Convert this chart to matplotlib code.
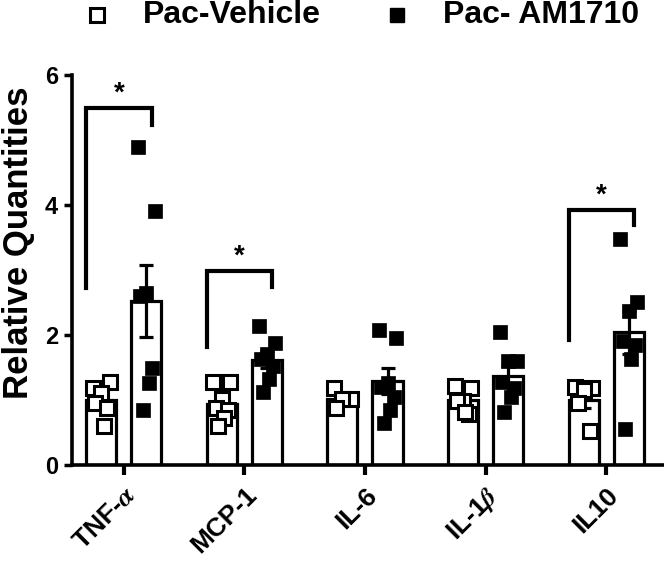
import matplotlib
matplotlib.use("Agg")
import matplotlib.pyplot as plt
import numpy as np

plt.rcParams['font.family'] = ['Liberation Sans', 'DejaVu Sans']
plt.rcParams['font.weight'] = 'bold'
plt.rcParams['mathtext.fontset'] = 'stix'

# data
categories = ['TNF-$\\alpha$', 'MCP-1', 'IL-6', 'IL-1$\\beta$', 'IL10']
vehicle_pts = [
    [1.18, 1.28, 1.10, 0.95, 0.87, 0.60],
    [1.28, 1.28, 1.02, 0.87, 0.84, 0.72, 0.60],
    [1.18, 1.02, 1.02, 0.87],
    [1.22, 1.19, 0.98, 0.98, 0.79, 0.81],
    [1.20, 1.18, 1.15, 0.95, 0.53],
]
am_pts = [
    [4.89, 3.91, 2.65, 2.60, 1.49, 1.26, 0.85],
    [2.14, 1.88, 1.71, 1.63, 1.53, 1.33, 1.13],
    [2.08, 1.95, 1.26, 1.20, 1.05, 0.85, 0.65],
    [2.05, 1.60, 1.60, 1.28, 1.18, 1.05, 0.82],
    [3.47, 2.50, 2.37, 1.90, 1.84, 1.63, 0.56],
]
labels = ['Pac-Vehicle', 'Pac- AM1710']

# significance brackets
sig_groups = [0, 1, 4]
sig_top = [5.49, 2.98, 3.92]
sig_left_bottom = [2.72, 1.82, 1.92]
sig_right_bottom = [5.23, 2.74, 3.69]

fig = plt.figure(figsize=(6.64, 5.69), dpi=100)
ax = fig.add_axes([0.1084, 0.1828, 0.8916, 0.6854])

off = 0.187
bw = 0.25
lw = 2.3
jitter = [-0.07, 0.07, 0.0, -0.05, 0.05, 0.02, -0.03]

x = np.arange(len(categories))
for i in range(len(categories)):
    for pts, dx, filled in [(vehicle_pts[i], -off, False), (am_pts[i], off, True)]:
        pts = np.array(pts)
        m = pts.mean()
        sem = pts.std(ddof=1) / np.sqrt(len(pts))
        xc = x[i] + dx
        ax.bar(xc, m, width=bw, facecolor='white', edgecolor='black', linewidth=lw, zorder=2)
        ax.errorbar(xc, m, yerr=sem, fmt='none', ecolor='black', elinewidth=lw,
                    capsize=5, capthick=lw, zorder=3)
        xs = [xc + jitter[k % len(jitter)] for k in range(len(pts))]
        if filled:
            ax.plot(xs, pts, 's', ms=9.5, mfc='black', mec='black', mew=0.5, ls='none', zorder=4)
        else:
            ax.plot(xs, pts, 's', ms=10, mfc='white', mec='black', mew=2.2, ls='none', zorder=4)

for g, top, lb, rb in zip(sig_groups, sig_top, sig_left_bottom, sig_right_bottom):
    xl = x[g] - 0.31
    xr = x[g] + 0.23
    ax.plot([xl, xl, xr, xr], [lb, top, top, rb], color='black', lw=3, solid_joinstyle='miter', zorder=3)
    ax.text((xl + xr) / 2, top + 0.02, '*', ha='center', va='bottom', fontsize=20, fontweight='bold')

ax.set_xlim(-0.43, 4.48)
ax.set_ylim(0, 6)
ax.set_yticks([0, 2, 4, 6])
ax.set_xticks(x)
ax.set_xticklabels(categories, rotation=45, ha='right', rotation_mode='anchor', fontsize=19, fontweight='bold')
ax.tick_params(axis='y', labelsize=17, width=2.5, length=6, pad=4)
ax.tick_params(axis='x', width=3, length=7, pad=6)
for s in ['top', 'right']:
    ax.spines[s].set_visible(False)
for s in ['left', 'bottom']:
    ax.spines[s].set_linewidth(2.6)
ax.set_ylabel('Relative Quantities', fontsize=25, fontweight='bold')
ax.yaxis.set_label_coords(-0.062, 0.57)

# legend drawn by hand at the top
fig.lines.append(plt.Line2D([97 / 664], [1 - 15 / 569], transform=fig.transFigure, marker='s', ms=10,
                            mfc='white', mec='black', mew=2.2, ls='none'))
fig.lines.append(plt.Line2D([397 / 664], [1 - 15 / 569], transform=fig.transFigure, marker='s', ms=10,
                            mfc='black', mec='black', ls='none'))
fig.text(143 / 664, 1 - 15 / 569, labels[0], ha='left', va='center', fontsize=23, fontweight='bold')
fig.text(443 / 664, 1 - 15 / 569, labels[1], ha='left', va='center', fontsize=23, fontweight='bold')

fig.savefig('out.png', dpi=100)
